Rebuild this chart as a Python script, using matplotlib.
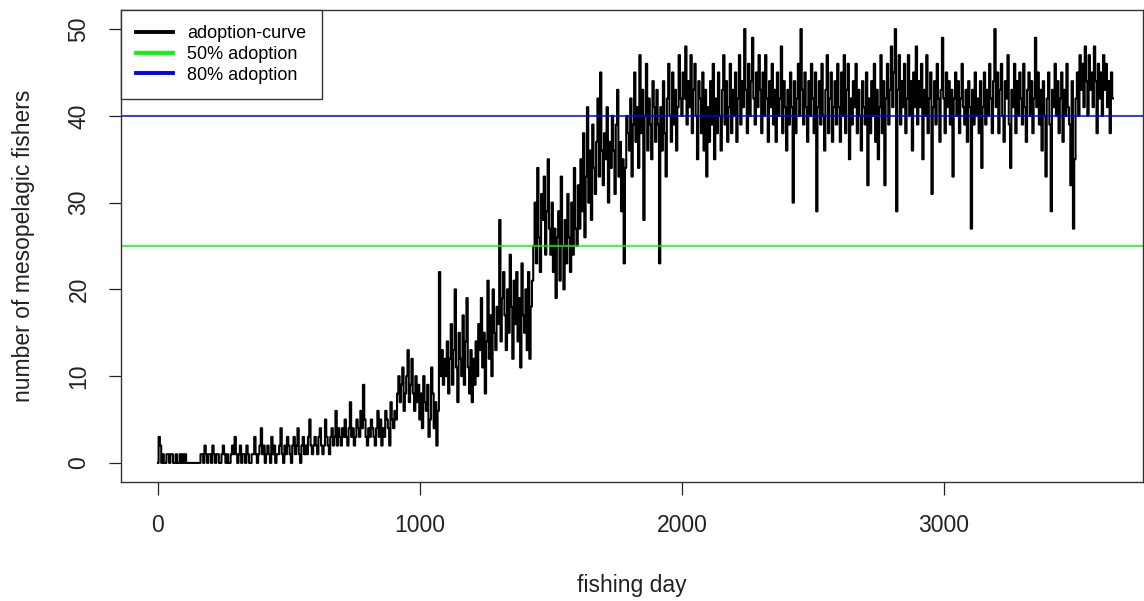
import numpy as np
import matplotlib
matplotlib.use("Agg")
import matplotlib.pyplot as plt

plt.rcParams['font.family'] = ['Liberation Sans', 'DejaVu Sans']

# mesopelagic fishers per fishing day, one value every 5 days (rows of 100 days)
step = 5
fishers = [
    0, 3, 2, 0, 1, 0, 0, 1, 1, 0, 1, 1, 0, 0, 1, 0, 0, 1, 0, 1,
    0, 1, 0, 0, 0, 0, 0, 0, 0, 0, 0, 0, 0, 1, 1, 0, 2, 1, 0, 1,
    1, 0, 2, 1, 0, 1, 1, 0, 0, 1, 2, 1, 0, 1, 0, 0, 1, 2, 1, 3,
    1, 0, 1, 2, 0, 1, 1, 0, 2, 1, 0, 0, 1, 1, 3, 1, 0, 1, 2, 4,
    1, 2, 0, 1, 2, 1, 0, 3, 1, 2, 0, 1, 1, 2, 4, 1, 0, 2, 1, 3,
    2, 1, 0, 2, 3, 1, 2, 4, 1, 0, 2, 3, 1, 2, 1, 3, 5, 2, 1, 2,
    3, 2, 1, 3, 4, 2, 1, 2, 5, 3, 2, 1, 3, 4, 2, 3, 6, 2, 4, 3,
    2, 4, 3, 5, 3, 2, 4, 7, 3, 4, 2, 3, 5, 4, 3, 6, 4, 9, 5, 3,
    2, 4, 3, 5, 4, 3, 2, 4, 6, 3, 5, 2, 4, 3, 6, 5, 4, 2, 7, 5,
    4, 6, 5, 8, 10, 7, 9, 11, 6, 8, 10, 13, 7, 9, 12, 8, 6, 10, 7, 9,
    5, 8, 4, 10, 7, 6, 9, 3, 5, 11, 8, 4, 7, 2, 6, 22, 10, 13, 9, 12,
    10, 14, 8, 12, 16, 9, 13, 20, 11, 7, 15, 12, 10, 17, 9, 14, 19, 11, 8, 13,
    7, 12, 9, 14, 10, 16, 13, 19, 11, 15, 8, 14, 21, 12, 17, 10, 20, 15, 13, 18,
    16, 28, 14, 19, 22, 17, 13, 20, 15, 24, 18, 12, 21, 16, 22, 14, 19, 11, 23, 17,
    15, 20, 13, 22, 12, 18, 21, 25, 30, 23, 34, 26, 22, 31, 28, 33, 24, 29, 35, 27,
    24, 30, 22, 27, 19, 26, 29, 21, 33, 25, 20, 28, 23, 31, 26, 22, 30, 24, 34, 27,
    25, 32, 27, 35, 29, 38, 26, 33, 41, 30, 36, 28, 39, 34, 31, 37, 42, 33, 45, 36,
    32, 38, 35, 41, 30, 37, 34, 40, 36, 31, 39, 43, 33, 37, 29, 35, 23, 34, 40, 38,
    36, 42, 33, 39, 45, 37, 41, 34, 47, 38, 43, 28, 40, 46, 36, 42, 39, 35, 44, 41,
    37, 43, 39, 23, 41, 36, 44, 38, 33, 42, 46, 40, 37, 45, 39, 43, 36, 41, 47, 42,
    40, 45, 42, 48, 39, 44, 41, 47, 38, 43, 46, 40, 35, 44, 42, 38, 45, 36, 43, 33,
    41, 37, 44, 39, 46, 35, 42, 38, 45, 40, 36, 43, 47, 39, 44, 37, 41, 46, 38, 43,
    40, 45, 37, 42, 47, 39, 44, 41, 50, 43, 38, 46, 40, 44, 49, 42, 39, 45, 41, 47,
    43, 38, 45, 40, 47, 42, 37, 44, 41, 46, 39, 43, 37, 45, 40, 42, 48, 38, 44, 41,
    36, 43, 39, 45, 41, 30, 44, 38, 42, 46, 40, 50, 43, 39, 45, 41, 37, 44, 40, 46,
    42, 38, 45, 29, 41, 44, 39, 46, 40, 36, 43, 47, 38, 42, 45, 37, 41, 44, 39, 46,
    41, 37, 45, 40, 47, 38, 43, 46, 35, 42, 39, 44, 41, 46, 38, 43, 40, 36, 44, 41,
    39, 45, 32, 42, 38, 44, 40, 46, 37, 43, 35, 41, 47, 38, 44, 32, 42, 46, 39, 43,
    48, 41, 45, 50, 29, 43, 47, 39, 44, 41, 46, 38, 42, 47, 40, 44, 36, 45, 41, 48,
    39, 44, 41, 46, 35, 43, 40, 47, 38, 42, 45, 31, 41, 44, 39, 46, 42, 37, 43, 49,
    42, 38, 45, 41, 44, 39, 43, 33, 42, 45, 40, 44, 38, 42, 46, 41, 39, 43, 37, 44,
    41, 27, 43, 39, 45, 40, 42, 38, 44, 34, 41, 45, 39, 43, 40, 46, 42, 38, 44, 50,
    41, 45, 38, 43, 46, 40, 37, 44, 42, 47, 39, 34, 43, 41, 46, 38, 44, 40, 45, 42,
    39, 46, 41, 37, 43, 45, 40, 44, 38, 42, 49, 41, 45, 39, 43, 36, 44, 40, 33, 42,
    45, 39, 29, 43, 41, 46, 40, 44, 38, 42, 45, 37, 43, 40, 46, 41, 39, 32, 44, 27,
    35, 42, 45, 40, 47, 43, 46, 41, 48, 44, 40, 47, 43, 45, 41, 48, 44, 38, 46, 42,
    45, 40, 47, 43, 46, 41, 44, 38, 45, 42,
]
days = np.arange(len(fishers)) * step

half_adoption = 25
eighty_adoption = 40

fig = plt.figure(figsize=(11.44, 6.01), dpi=100)
ax = fig.add_axes([121 / 1144, (601 - 482) / 601, 1022 / 1144, 472 / 601])

ax.plot(days, fishers, color='black', lw=1.5, drawstyle='steps-mid',
        label='adoption-curve')
ax.axhline(half_adoption, color='#00ff00', lw=1.1, label='50% adoption')
ax.axhline(eighty_adoption, color='#0000ff', lw=1.1, label='80% adoption')

ax.set_xlim(-141, 3760)
ax.set_ylim(-2.2, 52.2)
ax.set_xticks([0, 1000, 2000, 3000])
ax.set_yticks([0, 10, 20, 30, 40, 50])
ax.set_yticklabels(['0', '10', '20', '30', '40', '50'], rotation=90, va='center')
ax.tick_params(axis='both', direction='out', length=9, width=0.9,
               labelsize=16.5, colors='#222222')
ax.tick_params(axis='x', pad=14)
ax.tick_params(axis='y', pad=13)
for s in ax.spines.values():
    s.set_linewidth(1.0)
    s.set_color('#333333')

ax.set_xlabel('fishing day', fontsize=16.5, labelpad=27, color='#222222')
ax.set_ylabel('number of mesopelagic fishers', fontsize=16.5, labelpad=23,
              color='#222222')

leg = ax.legend(loc='upper left', borderaxespad=0, fancybox=False,
                edgecolor='#333333', framealpha=1, fontsize=13,
                handlelength=2.05, handletextpad=0.78, labelspacing=0.2,
                borderpad=0.85)
leg.get_frame().set_linewidth(1.0)
for h in leg.legend_handles:
    h.set_linewidth(2.8)

fig.savefig('out.png', dpi=100)
